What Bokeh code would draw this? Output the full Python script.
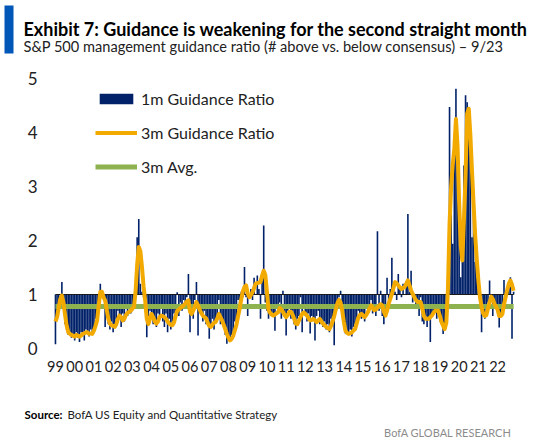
import numpy as np
from bokeh.plotting import figure
from bokeh.layouts import column
from bokeh.models import (ColumnDataSource, Range1d, FixedTicker, Legend,
                          LegendItem, Label)
from bokeh.embed import file_html
from bokeh.resources import INLINE

# x axis year labels (one per January)
YEAR_LABELS = ["99", "00", "01", "02", "03", "04", "05", "06", "07", "08", "09", "10",
               "11", "12", "13", "14", "15", "16", "17", "18", "19", "20", "21", "22"]

# 1m guidance ratio, monthly
G1 = [0.08, 0.70, 0.90, 1.00, 1.23, 0.75, 0.45, 0.35, 0.25, 0.30,
      0.20, 0.25, 0.15, 0.30, 0.20, 0.12, 0.30, 0.28, 0.15, 0.35,
      0.30, 0.22, 0.35, 0.25, 0.40, 0.55, 0.65, 0.90, 1.20, 1.05,
      0.92, 0.40, 0.85, 0.45, 0.35, 0.50, 0.30, 0.45, 0.55, 0.70,
      0.55, 0.40, 0.65, 0.50, 0.75, 0.60, 0.80, 0.65, 0.70, 0.90,
      1.15, 2.06, 2.40, 1.20, 1.05, 0.95, 0.70, 0.21, 0.60, 0.70,
      0.65, 0.45, 0.55, 0.40, 0.65, 0.55, 0.75, 0.50, 0.40, 0.65,
      0.30, 0.55, 0.35, 0.50, 0.65, 0.70, 1.04, 0.60, 0.85, 0.70,
      0.90, 0.80, 0.95, 1.38, 0.30, 0.75, 0.55, 0.90, 1.23, 0.24,
      0.80, 0.65, 0.50, 0.70, 0.45, 0.55, 0.18, 0.45, 0.55, 0.35,
      0.55, 0.60, 0.90, 0.45, 0.55, 0.40, 0.25, 0.09, 0.20, 0.15,
      0.25, 0.30, 0.50, 0.55, 0.90, 0.80, 1.05, 0.95, 1.51, 0.95,
      0.60, 1.00, 1.10, 0.90, 1.31, 1.00, 1.35, 1.10, 0.55, 1.25,
      2.28, 0.85, 0.70, 0.55, 0.70, 0.60, 0.65, 0.33, 0.80, 0.75,
      0.85, 0.55, 1.07, 0.60, 0.24, 0.70, 0.80, 0.55, 0.70, 0.45,
      0.35, 0.55, 0.60, 0.95, 0.30, 0.75, 0.60, 0.50, 0.65, 0.28,
      0.60, 0.55, 0.15, 0.60, 0.70, 0.45, 0.55, 0.40, 0.50, 0.35,
      0.45, 0.30, 0.55, 0.50, 0.06, 0.70, 0.85, 0.95, 1.07, 0.60,
      0.40, 0.28, 0.30, 0.25, 0.35, 0.22, 0.40, 0.45, 0.55, 0.70,
      0.60, 0.55, 0.65, 0.50, 0.75, 0.70, 0.80, 0.90, 0.65, 0.75,
      0.60, 2.17, 0.70, 1.07, 0.60, 0.45, 0.65, 1.31, 0.80, 1.10,
      1.68, 1.20, 1.05, 0.90, 1.38, 1.10, 0.95, 1.20, 1.00, 1.25,
      2.49, 1.05, 1.44, 0.85, 1.00, 0.75, 0.90, 0.60, 0.95, 0.50,
      0.45, 0.60, 0.40, 0.55, 0.12, 0.60, 0.70, 0.80, 0.55, 0.75,
      0.50, 0.45, 0.27, 0.40, 0.55, 0.90, 4.47, 2.80, 1.94, 3.90,
      4.81, 3.20, 2.30, 1.32, 1.63, 3.39, 4.69, 4.56, 3.91, 4.00,
      2.06, 2.68, 1.60, 1.32, 1.10, 0.80, 0.30, 0.65, 0.55, 0.75,
      0.85, 1.26, 0.95, 0.60, 0.80, 0.75, 0.70, 0.39, 0.60, 0.75,
      1.27, 0.90, 1.10, 1.20, 1.32, 0.18, 1.05]

# 3m guidance ratio, monthly
G3 = [0.50, 0.58, 0.75, 0.92, 0.98, 0.85, 0.62, 0.42, 0.30, 0.27,
      0.25, 0.24, 0.22, 0.25, 0.24, 0.22, 0.24, 0.27, 0.28, 0.30,
      0.30, 0.27, 0.28, 0.27, 0.33, 0.42, 0.52, 0.80, 1.05, 1.05,
      0.95, 0.89, 0.72, 0.55, 0.46, 0.43, 0.42, 0.40, 0.45, 0.55,
      0.61, 0.58, 0.52, 0.55, 0.62, 0.66, 0.68, 0.70, 0.74, 0.77,
      1.05, 1.55, 1.88, 1.80, 1.51, 1.15, 0.89, 0.55, 0.45, 0.55,
      0.64, 0.58, 0.50, 0.46, 0.50, 0.58, 0.61, 0.60, 0.58, 0.55,
      0.50, 0.46, 0.44, 0.43, 0.48, 0.60, 0.70, 0.72, 0.75, 0.77,
      0.80, 0.83, 0.87, 0.89, 0.68, 0.64, 0.70, 0.78, 0.86, 0.80,
      0.72, 0.66, 0.61, 0.58, 0.56, 0.48, 0.42, 0.40, 0.44, 0.48,
      0.49, 0.56, 0.64, 0.58, 0.52, 0.44, 0.36, 0.27, 0.20, 0.15,
      0.18, 0.24, 0.34, 0.44, 0.60, 0.74, 0.92, 1.06, 1.14, 1.17,
      1.02, 0.95, 0.99, 1.04, 1.12, 1.20, 1.21, 1.22, 1.23, 1.35,
      1.44, 1.36, 1.05, 0.72, 0.66, 0.63, 0.61, 0.63, 0.65, 0.67,
      0.75, 0.72, 0.68, 0.62, 0.58, 0.62, 0.68, 0.68, 0.63, 0.55,
      0.46, 0.45, 0.52, 0.58, 0.64, 0.67, 0.64, 0.61, 0.56, 0.52,
      0.53, 0.55, 0.52, 0.49, 0.52, 0.55, 0.50, 0.46, 0.43, 0.40,
      0.38, 0.36, 0.42, 0.50, 0.60, 0.72, 0.84, 0.90, 0.85, 0.70,
      0.50, 0.33, 0.29, 0.27, 0.28, 0.30, 0.33, 0.36, 0.46, 0.57,
      0.62, 0.64, 0.61, 0.58, 0.62, 0.67, 0.74, 0.80, 0.76, 0.71,
      0.72, 0.76, 0.79, 0.82, 0.80, 0.68, 0.61, 0.70, 0.83, 0.92,
      1.01, 1.12, 1.23, 1.21, 1.17, 1.13, 1.10, 1.12, 1.14, 1.20,
      1.26, 1.17, 1.08, 1.01, 0.95, 0.90, 0.86, 0.86, 0.86, 0.74,
      0.60, 0.55, 0.55, 0.55, 0.58, 0.61, 0.66, 0.70, 0.70, 0.70,
      0.60, 0.49, 0.42, 0.36, 0.48, 1.10, 2.30, 3.00, 3.40, 3.70,
      4.25, 3.75, 2.70, 1.90, 1.63, 2.40, 3.20, 4.35, 4.44, 3.95,
      3.30, 2.68, 2.10, 1.65, 1.26, 0.95, 0.77, 0.65, 0.60, 0.62,
      0.74, 0.85, 0.96, 0.92, 0.83, 0.78, 0.72, 0.60, 0.60, 0.64,
      0.82, 0.95, 1.08, 1.20, 1.26, 1.18, 1.07]

AVG_3M = 0.78   # long-run average of the 3m ratio
BASE = 1.0      # bars hang off the 1.0 line

NAVY = "#012169"
GOLD = "#F2A900"
GREEN = "#8DB24F"
BLUE = "#0057B8"
FONT = "Lato"
W = 554
HEAD_H, FOOT_H = 60, 50

months = np.arange(len(G1))
src = ColumnDataSource(dict(m=months, g1=G1, g3=G3, avg=[AVG_3M] * len(G1)))


def blank(height, y_top, y_bottom):
    # a figure whose frame is the whole canvas, in pixel coords (y downwards)
    f = figure(frame_width=W, frame_height=height, output_backend="svg", toolbar_location=None,
               x_range=Range1d(0, W), y_range=Range1d(y_bottom, y_top),
               x_axis_location=None, y_axis_location=None,
               min_border=0, outline_line_color=None, frame_align=False)
    f.grid.visible = False
    return f


# header
head = blank(HEAD_H, 0, HEAD_H)
head.quad(left=4, right=13, top=5, bottom=53, fill_color=BLUE, line_color=None)
head.add_layout(Label(x=23, y=28, text="Exhibit 7: Guidance is weakening for the second straight month",
                      text_font=FONT, text_font_style="bold", text_font_size="18px",
                      text_color="black", text_baseline="alphabetic"))
head.add_layout(Label(x=23, y=46, text="S&P 500 management guidance ratio (# above vs. below consensus) \u2013 9/23",
                      text_font=FONT, text_font_size="14.6px",
                      text_color="#222222", text_baseline="alphabetic"))

# main chart
X0, X1 = -3.1, 290.3
p = figure(width=W, height=442 - HEAD_H - FOOT_H, output_backend="svg", toolbar_location=None,
           x_range=Range1d(X0, X1), y_range=Range1d(0, 5.148), frame_align=False,
           min_border_left=50, min_border_right=W - 520,
           min_border_top=70 - HEAD_H, min_border_bottom=442 - FOOT_H - 348)
p.outline_line_color = None
p.grid.visible = False

bars = p.vbar(x="m", bottom=BASE, top="g1", width=1.0, source=src,
              fill_color=NAVY, line_color=None)
p.line(x=[months[0], months[-1]], y=[BASE, BASE], line_color="#1a1a1a", line_width=1.2)
avg = p.line(x="m", y="avg", source=src, line_color=GREEN, line_width=5)
g3 = p.line(x="m", y="g3", source=src, line_color=GOLD, line_width=4, line_join="round")

tick_pos = [12.0 * i for i in range(len(YEAR_LABELS))]
p.xaxis.ticker = FixedTicker(ticks=tick_pos)
p.xaxis.major_label_overrides = {t: lab for t, lab in zip(tick_pos, YEAR_LABELS)}
p.yaxis.ticker = FixedTicker(ticks=[0, 1, 2, 3, 4, 5])
for ax in (p.xaxis[0], p.yaxis[0]):
    ax.axis_line_color = None
    ax.major_tick_line_color = None
    ax.minor_tick_line_color = None
    ax.major_tick_out = 0
    ax.major_tick_in = 0
    ax.major_label_text_font = FONT
    ax.major_label_text_color = "#222222"
p.xaxis.major_label_text_font_size = "14.5px"
p.xaxis.major_label_standoff = 12
p.yaxis.major_label_text_font_size = "17px"
p.yaxis.major_label_standoff = 13

legend = Legend(items=[LegendItem(label="1m Guidance Ratio", renderers=[bars]),
                       LegendItem(label="3m Guidance Ratio", renderers=[g3]),
                       LegendItem(label="3m Avg.", renderers=[avg])],
                location=(45, 171), padding=0, margin=0, spacing=12,
                glyph_width=42, glyph_height=13, label_height=22, label_standoff=4,
                label_text_font=FONT, label_text_font_size="16px",
                label_text_color="#222222",
                border_line_alpha=0, background_fill_alpha=0)
p.add_layout(legend)

# footer
foot = blank(FOOT_H, 442 - FOOT_H, 442)
foot.add_layout(Label(x=24, y=413.5, text="Source:",
                      text_font=FONT, text_font_style="bold", text_font_size="11.5px",
                      text_color="black", text_baseline="alphabetic"))
foot.add_layout(Label(x=67, y=413.5, text="BofA US Equity and Quantitative Strategy",
                      text_font=FONT, text_font_size="11.5px",
                      text_color="#222222", text_baseline="alphabetic"))
foot.add_layout(Label(x=511, y=432, text="BofA GLOBAL RESEARCH",
                      text_font=FONT, text_font_size="11px", text_align="right",
                      text_color="#8c8c8c", text_baseline="alphabetic"))

page = column(head, p, foot, spacing=0)
open("out.html", "w").write(file_html(page, INLINE))
